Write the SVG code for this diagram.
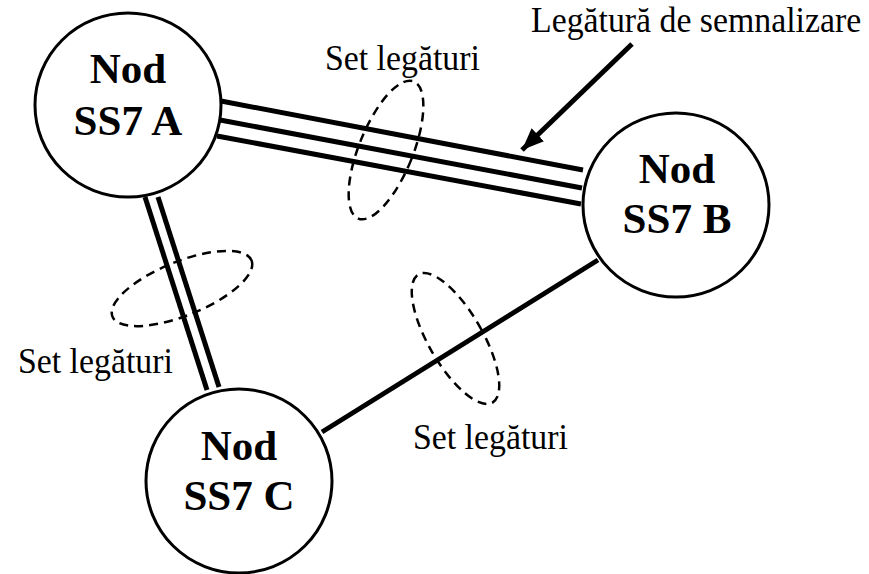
<svg xmlns="http://www.w3.org/2000/svg" width="869" height="574" viewBox="0 0 869 574">
<defs>
<style>
.node{fill:#fff;stroke:#000;stroke-width:3}
.lbl{font-family:"Liberation Serif","Times New Roman",serif;font-size:33.8px;fill:#000}
.ntx{font-family:"Liberation Serif","Times New Roman",serif;font-size:43px;font-weight:bold;fill:#000;text-anchor:middle}
.link{stroke:#000;stroke-width:5;fill:none}
.set{stroke:#000;stroke-width:2.5;fill:none;stroke-dasharray:9 6}
</style>
<marker id="ah" markerUnits="userSpaceOnUse" markerWidth="24" markerHeight="20" refX="22" refY="9" orient="auto">
<path d="M0,0 L22,9 L0,18 Z" fill="#000"/>
</marker>
</defs>
<rect width="869" height="574" fill="#fff"/>
<g id="connectors">
<line class="link" x1="221" y1="101" x2="583" y2="170"/>
<line class="link" x1="220" y1="120" x2="582" y2="188"/>
<line class="link" x1="217" y1="136" x2="581" y2="204"/>
<line class="link" x1="145" y1="197" x2="207" y2="390" stroke-width="4.5"/>
<line class="link" x1="158" y1="197" x2="219" y2="387" stroke-width="4.5"/>
<line class="link" x1="322" y1="432" x2="598" y2="260"/>
<ellipse class="set" cx="386" cy="150" rx="27" ry="74" transform="rotate(22 386 150)"/>
<ellipse class="set" cx="182" cy="288.5" rx="75" ry="27" transform="rotate(-22 182 288.5)"/>
<ellipse class="set" cx="455.5" cy="338.5" rx="27" ry="74" transform="rotate(-30 455.5 338.5)"/>
<line x1="632" y1="44" x2="522" y2="150" stroke="#000" stroke-width="5" marker-end="url(#ah)"/>
</g>
<g id="nodeA">
<ellipse class="node" cx="128" cy="105" rx="93" ry="92"/>
<text class="ntx" x="128" y="83">Nod</text>
<text class="ntx" x="128" y="135">SS7 A</text>
</g>
<g id="nodeB">
<ellipse class="node" cx="676" cy="205" rx="93" ry="92"/>
<text class="ntx" x="677" y="183">Nod</text>
<text class="ntx" x="677" y="233">SS7 B</text>
</g>
<g id="nodeC">
<ellipse class="node" cx="239" cy="481" rx="93" ry="92"/>
<text class="ntx" x="239" y="460">Nod</text>
<text class="ntx" x="239" y="510">SS7 C</text>
</g>
<g id="labels">
<text class="lbl" transform="translate(531 32) scale(1 1.05)">Legătură de semnalizare</text>
<text class="lbl" transform="translate(325 70) scale(1 1.05)">Set legături</text>
<text class="lbl" transform="translate(18 373) scale(1 1.05)">Set legături</text>
<text class="lbl" transform="translate(413 448.5) scale(1 1.05)">Set legături</text>
</g>
</svg>
